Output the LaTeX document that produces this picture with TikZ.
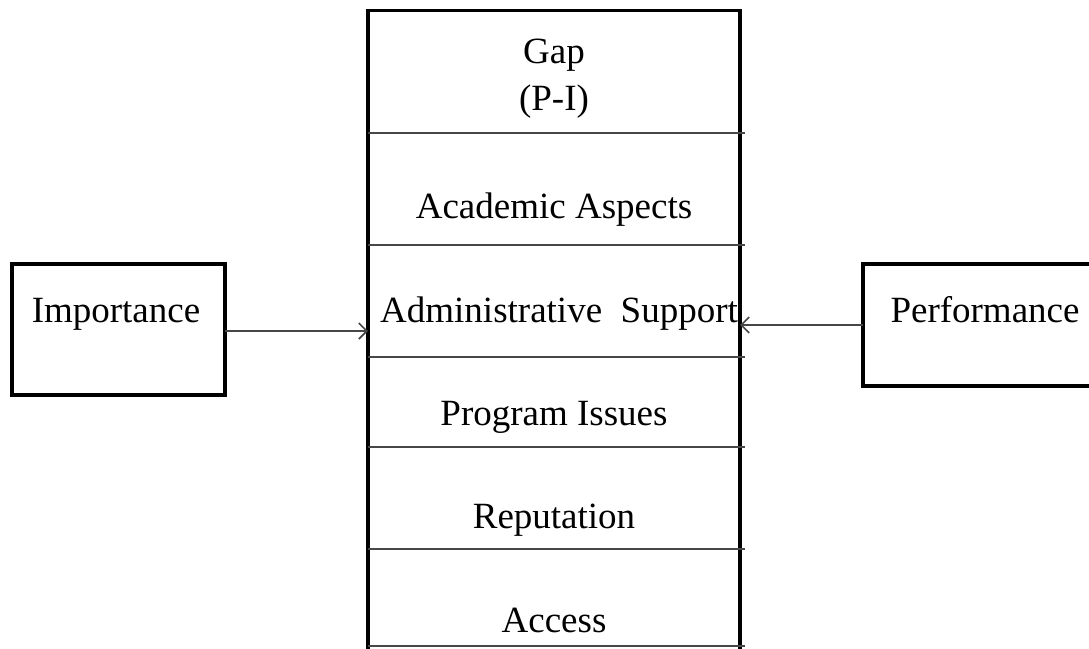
\documentclass[tikz,border=0pt]{standalone}
\usepackage{fontspec}
\setmainfont{Liberation Serif}
\usetikzlibrary{arrows.meta}
\begin{document}
\begin{tikzpicture}[x=1pt,y=-1pt,
  boxline/.style={draw=black,line width=3.4pt,rectangle,inner sep=0pt,outer sep=0pt},
  sepline/.style={draw=black!72,line width=1.7pt},
  conn/.style={draw=black!72,line width=1.7pt,-{Straight Barb[length=8pt,width=16pt,line width=1.7pt]}},
  lbl/.style={font=\fontsize{37}{44}\selectfont,anchor=base,inner sep=0pt}]
\useasboundingbox (0,0) rectangle (1089,648);
\clip (0,0) rectangle (1089,648);
% central box
\node[boxline,anchor=north west,minimum width=372pt,minimum height=650pt] (main) at (368,10.5) {};
% separators
\draw[sepline] (368,132.7) -- (745,132.7);
\draw[sepline] (368,245) -- (745,245);
\draw[sepline] (368,356.7) -- (745,356.7);
\draw[sepline] (368,447) -- (745,447);
\draw[sepline] (368,549) -- (745,549);
\draw[sepline] (368,646) -- (745,646);
% row texts
\node[lbl] (gap) at (554,63) {Gap};
\node[lbl] (pi) at (554,110) {(P-I)};
\node[lbl] (acad) at (554,218) {Academic Aspects};
\node[lbl] (admin) at (559,322) {Administrative\ \ Support};
\node[lbl] (prog) at (554,425) {Program Issues};
\node[lbl] (rep) at (554,528) {Reputation};
\node[lbl] (acc) at (554,632) {Access};
% side boxes
\node[boxline,anchor=north west,minimum width=213pt,minimum height=131pt] (impbox) at (12,264) {};
\node[lbl] (imptxt) at (116,322) {Importance};
\node[boxline,anchor=north west,minimum width=240pt,minimum height=122pt] (perfbox) at (863,264) {};
\node[lbl] (perftxt) at (985,322) {Performance};
% connectors
\draw[conn] ([yshift=-1.5pt]impbox.east) -- ([yshift=-1.5pt]impbox.east -| main.west);
\draw[conn] (perfbox.west) -- (perfbox.west -| main.east);
\end{tikzpicture}
\end{document}
